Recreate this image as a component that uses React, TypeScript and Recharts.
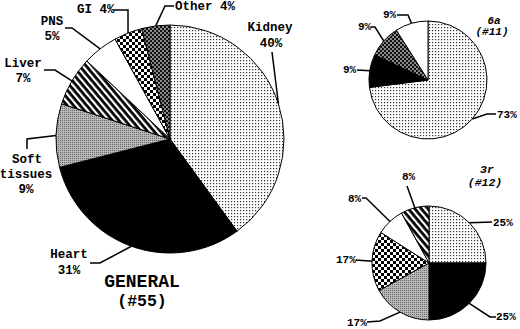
import React from 'react';
import { PieChart, Pie, Cell } from 'recharts';

// GENERAL (#55)
const generalNames = ['Kidney', 'Heart', 'Soft tissues', 'Liver', 'PNS', 'GI', 'Other'];
const generalValues = [40, 31, 9, 7, 5, 4, 4];

// 6a (#11)
const sixANames = ['Kidney', 'Heart', 'Other', 'PNS'];
const sixAValues = [73, 9, 9, 9];

// 3r (#12)
const threeRNames = ['Kidney', 'Heart', 'Soft tissues', 'GI', 'PNS', 'Liver'];
const threeRValues = [25, 25, 17, 17, 8, 8];

const FONT = "'Liberation Mono', 'Courier New', monospace";

const FILLS: Record<string, string> = {
    Kidney: 'url(#p-dots)',
    Heart: '#000',
    'Soft tissues': 'url(#p-gray)',
    Liver: 'url(#p-stripes)',
    PNS: '#fff',
    GI: 'url(#p-check)',
    Other: 'url(#p-dark)',
};

type Tag = {
    kind: 'stack' | 'inline' | 'value';
    rows: [number, number][];
    anchor?: 'start' | 'middle' | 'end';
    path: [number, number][];
};

// label placement + leader elbows; the last leader point comes from the slice midAngle
const generalTags: Tag[] = [
    { kind: 'stack', rows: [[270, 31], [271, 47]], path: [[272, 52]] },
    { kind: 'stack', rows: [[69, 258], [69, 274]], path: [[90, 263], [100, 263]] },
    { kind: 'stack', rows: [[27, 163], [26, 178], [26, 193]], path: [[27, 149], [27, 139]] },
    { kind: 'stack', rows: [[23, 67], [23, 82]], path: [[44, 70], [55, 70]] },
    { kind: 'stack', rows: [[52, 25], [52, 40]], path: [[65, 28], [72, 28]] },
    { kind: 'inline', rows: [[77, 13]], anchor: 'start', path: [[114, 10], [128, 10]] },
    { kind: 'inline', rows: [[175, 10]], anchor: 'start', path: [[174, 6], [165, 6]] },
];

const sixATags: Tag[] = [
    { kind: 'value', rows: [[497, 118]], anchor: 'start', path: [[496, 114], [487, 114]] },
    { kind: 'value', rows: [[343, 73]], anchor: 'start', path: [[357, 70]] },
    { kind: 'value', rows: [[358, 30]], anchor: 'start', path: [[371, 27], [375, 27]] },
    { kind: 'value', rows: [[383, 18]], anchor: 'start', path: [[397, 15], [408, 15]] },
];

const threeRTags: Tag[] = [
    { kind: 'value', rows: [[493, 226]], anchor: 'start', path: [[492, 222]] },
    { kind: 'value', rows: [[496, 320]], anchor: 'start', path: [[496, 317], [490, 317]] },
    { kind: 'value', rows: [[347, 326]], anchor: 'start', path: [[367, 322], [380, 321]] },
    { kind: 'value', rows: [[336, 263]], anchor: 'start', path: [[356, 260]] },
    { kind: 'value', rows: [[348, 202]], anchor: 'start', path: [[362, 198], [366, 198]] },
    { kind: 'value', rows: [[402, 180]], anchor: 'start', path: [[407, 186]] },
];

const toRows = (names: string[], values: number[]) =>
    names.map((name, i) => ({ name, value: values[i] }));

const makeLabel = (names: string[], values: number[], tags: Tag[], fontSize: number) =>
    (props: any) => {
        const { cx, cy, midAngle, outerRadius, index } = props;
        const tag = tags[index];
        const name = names[index];
        const value = values[index];
        const rad = (Math.PI / 180) * midAngle;
        const ex = cx + outerRadius * Math.cos(rad);
        const ey = cy - outerRadius * Math.sin(rad);
        const pts = [...tag.path, [ex, ey]].map((p) => p.join(',')).join(' ');
        const lines =
            tag.kind === 'stack'
                ? [...name.split(' '), `${value}%`]
                : tag.kind === 'inline'
                ? [`${name} ${value}%`]
                : [`${value}%`];
        return (
            <g>
                <polyline points={pts} fill="none" stroke="#000" strokeWidth={1.5} />
                {lines.map((t, i) => (
                    <text
                        key={i}
                        x={tag.rows[i][0]}
                        y={tag.rows[i][1]}
                        textAnchor={tag.anchor ?? 'middle'}
                        fontFamily={FONT}
                        fontWeight="bold"
                        fontSize={fontSize}
                        fill="#000"
                    >
                        {t}
                    </text>
                ))}
            </g>
        );
    };

export default function App() {
    const titleStyle = { fontFamily: FONT, fontWeight: 'bold' as const, fill: '#000' };
    return (
        <div style={{ position: 'absolute', left: 0, top: 0, width: 520, height: 329, background: '#fff' }}>
            <svg width={520} height={329} style={{ position: 'absolute', left: 0, top: 0, pointerEvents: 'none', zIndex: 2 }}>
                <defs>
                    <pattern id="p-dots" width="3" height="3" patternUnits="userSpaceOnUse">
                        <rect width="3" height="3" fill="#fff" />
                        <rect width="1.2" height="1.2" fill="#333" />
                    </pattern>
                    <pattern id="p-gray" width="2" height="2" patternUnits="userSpaceOnUse">
                        <rect width="2" height="2" fill="#b8b8b8" />
                        <rect width="1" height="1" fill="#6a6a6a" />
                    </pattern>
                    <pattern id="p-stripes" width="5" height="5" patternUnits="userSpaceOnUse" patternTransform="rotate(-40)">
                        <rect width="5" height="5" fill="#000" />
                        <rect width="2.2" height="5" fill="#fff" />
                    </pattern>
                    <pattern id="p-check" width="6" height="6" patternUnits="userSpaceOnUse">
                        <rect width="6" height="6" fill="#fff" />
                        <rect width="3" height="3" fill="#000" />
                        <rect x="3" y="3" width="3" height="3" fill="#000" />
                    </pattern>
                    <pattern id="p-dark" width="4" height="4" patternUnits="userSpaceOnUse">
                        <rect width="4" height="4" fill="#111" />
                        <rect width="2" height="2" fill="#8a8a8a" />
                        <rect x="2" y="2" width="2" height="2" fill="#8a8a8a" />
                    </pattern>
                </defs>
                <text x={142} y={287} textAnchor="middle" fontSize={18} {...titleStyle}>GENERAL</text>
                <text x={142} y={306} textAnchor="middle" fontSize={16.5} {...titleStyle}>(#55)</text>
                <text x={494} y={24} textAnchor="middle" fontSize={11} fontStyle="italic" {...titleStyle}>6a</text>
                <text x={492} y={35} textAnchor="middle" fontSize={11} fontStyle="italic" {...titleStyle}>(#11)</text>
                <text x={487} y={173} textAnchor="middle" fontSize={11.5} fontStyle="italic" {...titleStyle}>3r</text>
                <text x={485} y={186} textAnchor="middle" fontSize={11.5} fontStyle="italic" {...titleStyle}>(#12)</text>
            </svg>
            <PieChart width={520} height={329} margin={{ top: 0, right: 0, bottom: 0, left: 0 }}>
                <Pie
                    data={toRows(generalNames, generalValues)}
                    dataKey="value"
                    nameKey="name"
                    cx={170}
                    cy={139}
                    outerRadius={114}
                    startAngle={90}
                    endAngle={-270}
                    stroke="#000"
                    strokeWidth={1}
                    isAnimationActive={false}
                    labelLine={false}
                    label={makeLabel(generalNames, generalValues, generalTags, 12.5)}
                >
                    {generalNames.map((n, i) => (
                        <Cell key={`g-${i}`} fill={FILLS[n]} />
                    ))}
                </Pie>
                <Pie
                    data={toRows(sixANames, sixAValues)}
                    dataKey="value"
                    nameKey="name"
                    cx={428}
                    cy={80}
                    outerRadius={59}
                    startAngle={90}
                    endAngle={-270}
                    stroke="#000"
                    strokeWidth={1}
                    isAnimationActive={false}
                    labelLine={false}
                    label={makeLabel(sixANames, sixAValues, sixATags, 11)}
                >
                    {sixANames.map((n, i) => (
                        <Cell key={`a-${i}`} fill={FILLS[n]} />
                    ))}
                </Pie>
                <Pie
                    data={toRows(threeRNames, threeRValues)}
                    dataKey="value"
                    nameKey="name"
                    cx={429}
                    cy={263}
                    outerRadius={57}
                    startAngle={90}
                    endAngle={-270}
                    stroke="#000"
                    strokeWidth={1}
                    isAnimationActive={false}
                    labelLine={false}
                    label={makeLabel(threeRNames, threeRValues, threeRTags, 11)}
                >
                    {threeRNames.map((n, i) => (
                        <Cell key={`r-${i}`} fill={FILLS[n]} />
                    ))}
                </Pie>
            </PieChart>
        </div>
    );
}
